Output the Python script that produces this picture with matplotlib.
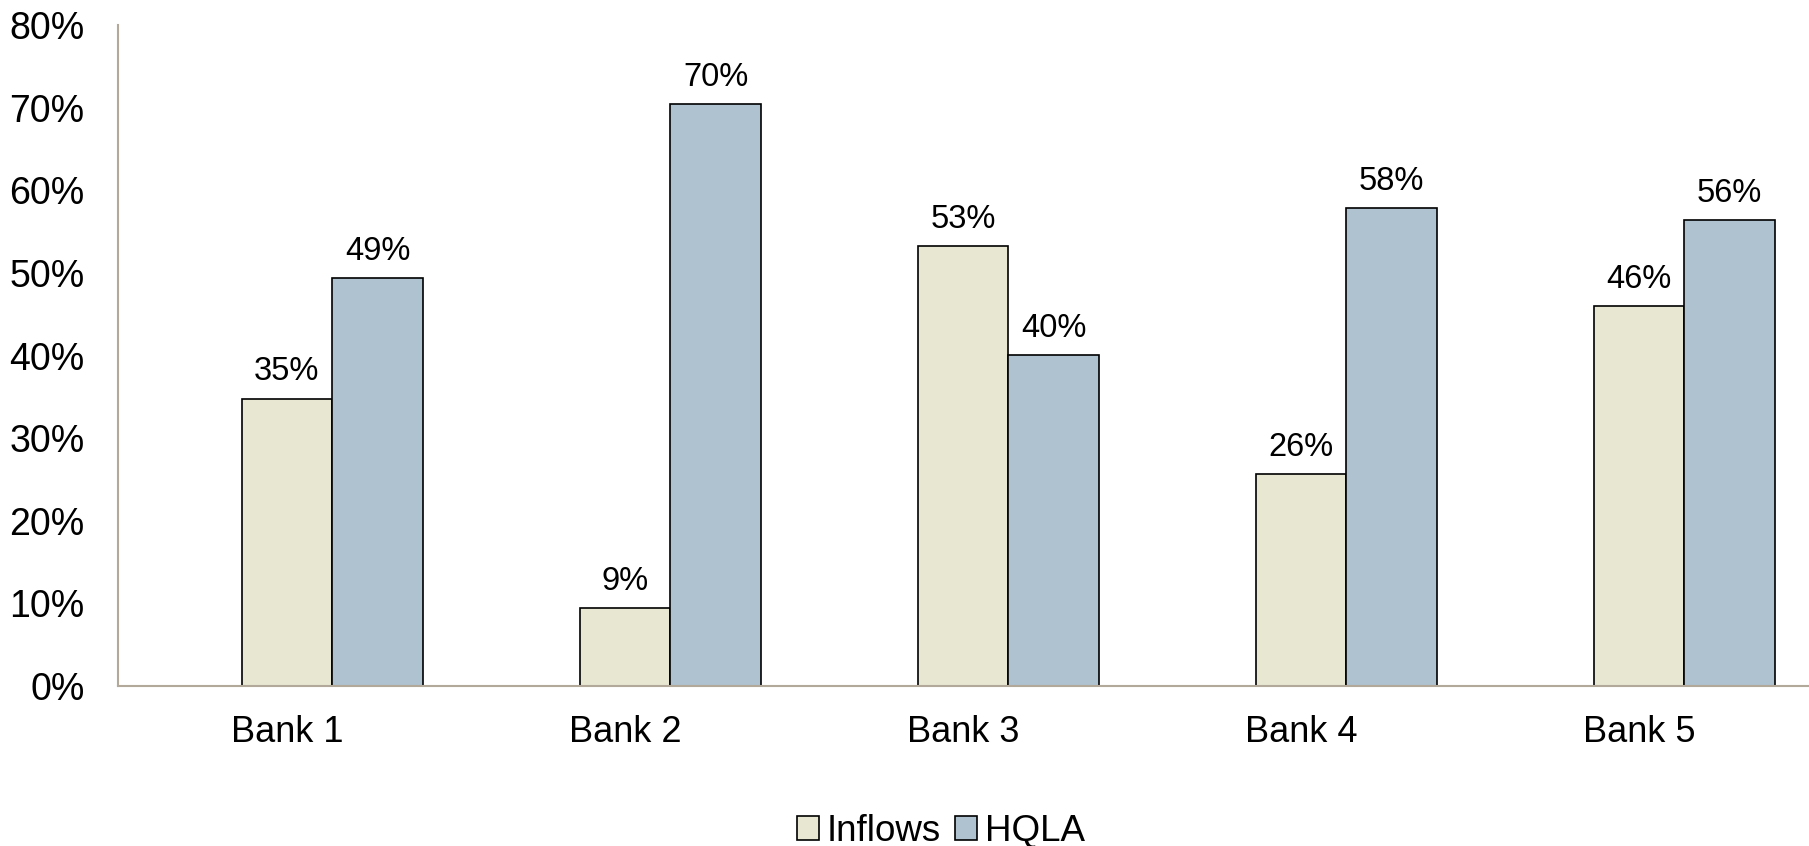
import matplotlib.pyplot as plt
import numpy as np

banks = ["Bank 1", "Bank 2", "Bank 3", "Bank 4", "Bank 5"]
inflows = [34.8, 9.4, 53.2, 25.7, 46.0]
hqla = [49.4, 70.4, 40.1, 57.8, 56.4]
yticks = [0, 10, 20, 30, 40, 50, 60, 70, 80]

plt.rcParams['font.family'] = ['Liberation Sans', 'DejaVu Sans']

fig = plt.figure(figsize=(18.09, 8.46), dpi=100)
ax = fig.add_axes([0.0652, 0.189, 0.9342, 0.7814])

x = np.arange(len(banks))
w = 0.268
# three slots per category, the first one left empty
b1 = ax.bar(x, inflows, w, color="#E8E7D2", edgecolor="black",
            linewidth=1.2, label="Inflows")
b2 = ax.bar(x + w, hqla, w, color="#AFC2D0", edgecolor="black",
            linewidth=1.2, label="HQLA")

for bars, vals in [(b1, inflows), (b2, hqla)]:
    for r, v in zip(bars, vals):
        ax.annotate("{:.0f}%".format(v), (r.get_x() + r.get_width() / 2, v),
                    xytext=(0, 8), textcoords="offset points",
                    ha="center", va="bottom", fontsize=23.5)

ax.set_xlim(-0.5, len(banks) - 0.5)
ax.set_ylim(0, 80)
ax.set_yticks(yticks)
ax.set_yticklabels(["{}%".format(t) for t in yticks])
ax.set_xticks(x)
ax.set_xticklabels(banks)
ax.tick_params(axis="y", length=0, pad=24, labelsize=27)
ax.tick_params(axis="x", length=0, pad=21, labelsize=26)

for s in ["top", "right"]:
    ax.spines[s].set_visible(False)
for s in ["left", "bottom"]:
    ax.spines[s].set_color("#B3A99B")
    ax.spines[s].set_linewidth(1.5)

fig.legend(loc="center", bbox_to_anchor=(0.52, 0.017), ncol=2, frameon=False,
           fontsize=26.5, handlelength=0.6, handleheight=0.6, handletextpad=0.2,
           columnspacing=0.4)

fig.savefig("out.png", dpi=100)
